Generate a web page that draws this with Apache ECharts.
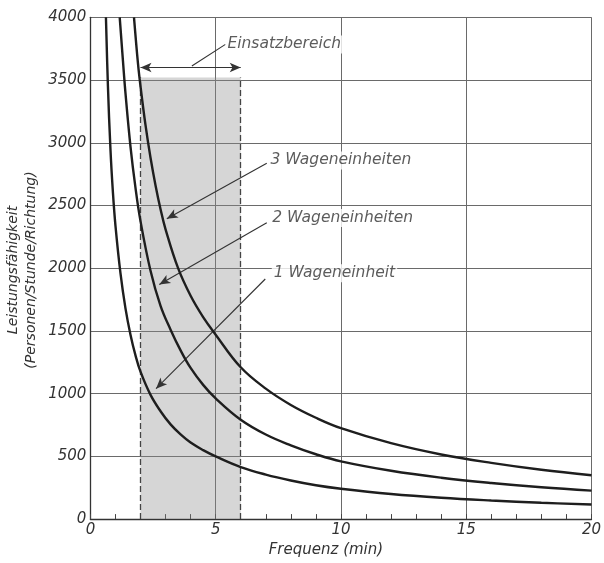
<!DOCTYPE html>
<html><head><meta charset="utf-8">
<script src="https://cdn.jsdelivr.net/npm/echarts@6/dist/echarts.min.js"></script>
<style>html,body{margin:0;padding:0;background:#fff}#c{width:604px;height:563px}</style>
</head><body><div id="c"></div>
<script>
// ---- data ----
const xTickLabels = ['0','5','10','15','20'];
const yTickLabels = ['0','500','1000','1500','2000','2500','3000','3500','4000'];

const curve1Name = '1 Wageneinheit';
const curve1X = [0.62, 0.7, 0.8, 0.9, 1.0, 1.2, 1.4, 1.6, 1.8, 2.0, 2.4, 2.8, 3.2, 3.6, 4.0, 4.5, 5, 6, 7, 8, 9, 10, 12, 14, 16, 18, 20];
const curve1Y = [4000, 3450, 2950, 2600, 2340, 1960, 1680, 1470, 1305, 1175, 990, 860, 755, 675, 610, 550, 500, 415, 355, 308, 270, 242, 200, 170, 148, 130, 116];

const curve2Name = '2 Wageneinheiten';
const curve2X = [1.17, 1.3, 1.4, 1.6, 1.8, 2.0, 2.4, 2.8, 3.2, 3.6, 4.0, 4.5, 5, 6, 7, 8, 9, 10, 12, 14, 16, 18, 20];
const curve2Y = [4000, 3650, 3395, 2970, 2640, 2375, 1980, 1700, 1510, 1345, 1205, 1070, 962, 792, 674, 588, 517, 460, 385, 330, 288, 254, 227];

const curve3Name = '3 Wageneinheiten';
const curve3X = [1.74, 1.9, 2.0, 2.2, 2.4, 2.6, 2.8, 3.0, 3.5, 4.0, 4.5, 5, 6, 7, 8, 9, 10, 12, 14, 16, 18, 20];
const curve3Y = [4000, 3630, 3450, 3140, 2880, 2660, 2470, 2310, 2000, 1780, 1610, 1470, 1210, 1040, 910, 808, 725, 605, 515, 448, 393, 349];

const rangeName = 'Einsatzbereich';
const rangeStart = 2;
const rangeEnd = 6;
const rangeTop = 3520;
const rangeArrowY = 3600;

const xAxisTitle = 'Frequenz (min)';
const yAxisTitle1 = 'Leistungsfähigkeit';
const yAxisTitle2 = '(Personen/Stunde/Richtung)';

// annotation anchors (label start, arrow tip) in data units
const lbl3 = [7.11, 2859], tip3From = [7.04, 2836], tip3 = [3.05, 2395];
const lbl2 = [7.18, 2401], tip2From = [7.04, 2362], tip2 = [2.75, 1870];
const lbl1 = [7.24, 1959], tip1From = [6.98, 1914], tip1 = [2.62, 1040];
const lblR = [5.39, 3784], leadRFrom = [4.05, 3612];

// ---- chart ----
const FONT = 'DejaVu Sans';
const TXT = '#333';
const zip = (xs, ys) => xs.map((x, i) => [x, ys[i]]);

const curveSeries = (name, xs, ys) => ({
  name, type: 'line', data: zip(xs, ys), showSymbol: false, symbol: 'none',
  smooth: 0.4, clip: true, silent: true,
  lineStyle: { color: '#1e1e1e', width: 2.4 }, z: 5
});

const labelSeries = (name, pos) => ({
  type: 'scatter', data: [pos], symbolSize: 0, silent: true, z: 6,
  label: {
    show: true, position: 'right', distance: 0, formatter: name,
    fontFamily: FONT, fontStyle: 'italic', fontSize: 15.5, color: TXT,
    backgroundColor: '#fff', padding: [1, 2]
  }
});

const chart = echarts.init(document.getElementById('c'), null, { renderer: 'canvas' });
chart.setOption({
  animation: false,
  backgroundColor: '#fff',
  grid: { left: 90.4, right: 7.7, top: 17.3, bottom: 39, containLabel: false },
  xAxis: {
    type: 'value', min: 0, max: 20, interval: 5,
    name: xAxisTitle, nameLocation: 'middle', nameGap: 21,
    nameTextStyle: { fontFamily: FONT, fontStyle: 'italic', fontSize: 15, color: TXT, padding: [0, 30, 0, 0] },
    axisLine: { show: true, lineStyle: { color: '#333', width: 1.3 } },
    axisTick: { show: true, inside: true, length: 5, lineStyle: { color: '#444' } },
    minorTick: { show: true, splitNumber: 5, length: 5, lineStyle: { color: '#444' } },
    splitLine: { show: true, lineStyle: { color: '#6a6a6a', width: 1 } },
    axisLabel: { margin: 4, fontFamily: FONT, fontStyle: 'italic', fontSize: 15, color: TXT,
      formatter: v => xTickLabels[Math.round(v / 5)] }
  },
  yAxis: {
    type: 'value', min: 0, max: 4000, interval: 500,
    axisLine: { show: true, lineStyle: { color: '#333', width: 1.3 } },
    axisTick: { show: false },
    splitLine: { show: true, lineStyle: { color: '#6a6a6a', width: 1 } },
    axisLabel: { margin: 4, fontFamily: FONT, fontStyle: 'italic', fontSize: 15, color: TXT,
      formatter: v => yTickLabels[Math.round(v / 500)] }
  },
  graphic: [{
    type: 'text', x: 22, y: 270, rotation: Math.PI / 2, silent: true,
    style: {
      text: yAxisTitle1 + '\n' + yAxisTitle2, align: 'center', verticalAlign: 'middle',
      fontFamily: FONT, fontStyle: 'italic', fontSize: 14, lineHeight: 18, fill: TXT
    }
  }],
  series: [
    {
      type: 'line', data: [], silent: true, z: 1,
      markArea: {
        silent: true,
        itemStyle: { color: 'rgba(140,140,140,0.36)', borderWidth: 0 },
        data: [[{ coord: [rangeStart, 0] }, { coord: [rangeEnd, rangeTop] }]]
      },
      markLine: {
        silent: true, symbol: 'none', label: { show: false },
        lineStyle: { color: '#444', width: 1.3, type: [6, 3] },
        data: [
          [{ coord: [rangeStart, 0] }, { coord: [rangeStart, rangeTop] }],
          [{ coord: [rangeEnd, 0] }, { coord: [rangeEnd, rangeTop] }]
        ]
      }
    },
    curveSeries(curve1Name, curve1X, curve1Y),
    curveSeries(curve2Name, curve2X, curve2Y),
    curveSeries(curve3Name, curve3X, curve3Y),
    {
      type: 'line', data: [], silent: true, z: 7,
      markLine: {
        silent: true, label: { show: false }, symbolSize: [7, 11],
        lineStyle: { color: '#333', width: 1.1, type: 'solid' },
        data: [
          [{ coord: [rangeStart, rangeArrowY], symbol: 'arrow' }, { coord: [rangeEnd, rangeArrowY], symbol: 'arrow' }],
          [{ coord: leadRFrom, symbol: 'none' }, { coord: lblR, symbol: 'none' }],
          [{ coord: tip3From, symbol: 'none' }, { coord: tip3, symbol: 'arrow' }],
          [{ coord: tip2From, symbol: 'none' }, { coord: tip2, symbol: 'arrow' }],
          [{ coord: tip1From, symbol: 'none' }, { coord: tip1, symbol: 'arrow' }]
        ]
      }
    },
    labelSeries(rangeName, lblR),
    labelSeries(curve3Name, lbl3),
    labelSeries(curve2Name, lbl2),
    labelSeries(curve1Name, lbl1)
  ]
});
</script>
</body></html>
